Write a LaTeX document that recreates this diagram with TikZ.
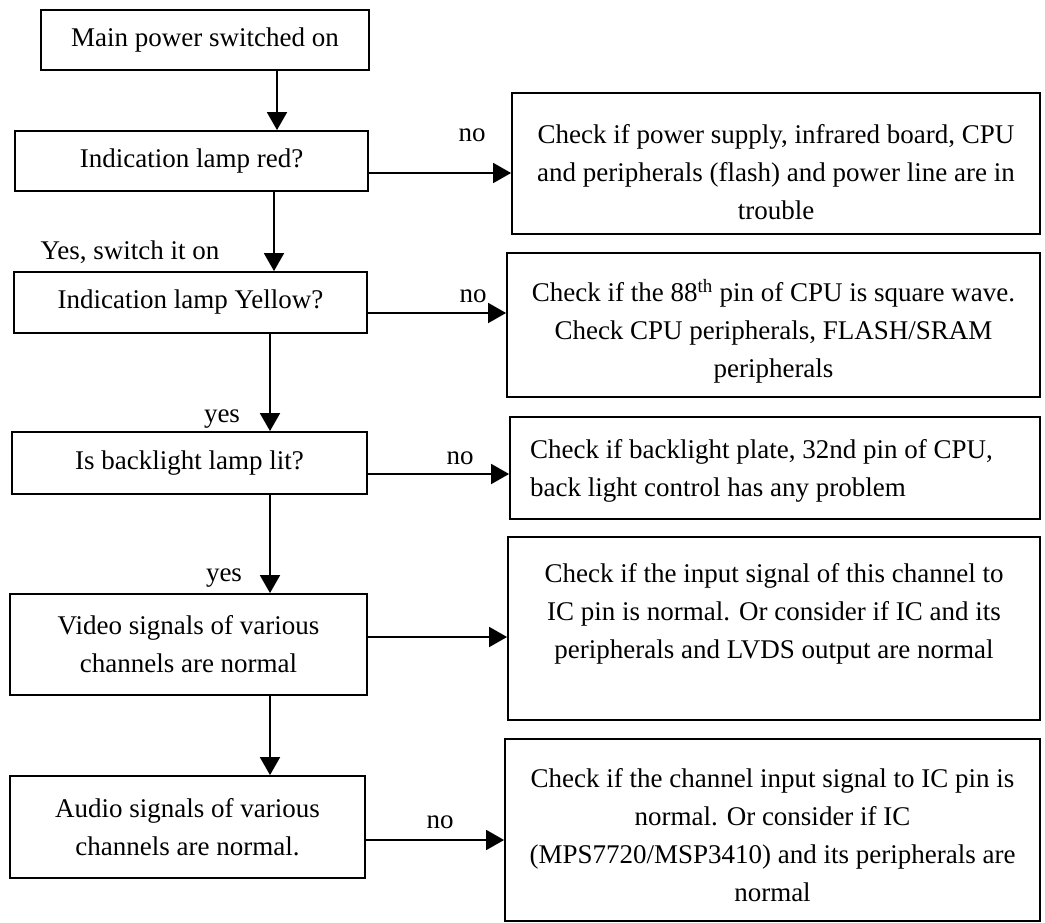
\documentclass[tikz,border=0pt]{standalone}
\usepackage{fontspec}
\setmainfont{Liberation Serif}
\usetikzlibrary{arrows.meta}
\begin{document}
\begin{tikzpicture}[x=1pt,y=-1pt,
  every node/.style={font=\fontsize{27}{38}\selectfont},
  box/.style={draw=black, line width=1.8pt, rectangle, inner sep=0pt, align=center},
  txt/.style={inner sep=0pt, align=center},
  lbl/.style={inner sep=0pt},
  arr/.style={line width=1.8pt, -{Triangle[length=18pt,width=20pt]}}]
\useasboundingbox (0,0) rectangle (1045,923);
\fill[white] (0,0) rectangle (1045,923);
% left column
\node[box, minimum width=328pt, minimum height=60pt] (b1) at (205,40) {Main power switched on};
\node[box, minimum width=353pt, minimum height=60pt] (b2) at (191.5,161) {Indication lamp red?};
\node[box, minimum width=353pt, minimum height=61pt] (b3) at (190.5,302.5) {Indication lamp Yellow?};
\node[box, minimum width=355pt, minimum height=62pt] (b4) at (189.5,463) {Is backlight lamp lit?};
\node[box, minimum width=357pt, minimum height=101pt] (b5) at (188.5,644.5) {Video signals of various\\channels are normal};
\node[box, minimum width=355pt, minimum height=102pt] (b6) at (187.5,827) {Audio signals of various\\channels are normal.};
% right column
\node[box, minimum width=528pt, minimum height=141pt] (r1) at (776,163.5) {};
\node[txt] (r1t) at (776,172) {Check if power supply, infrared board, CPU\\and peripherals (flash) and power line are in\\trouble};
\node[box, minimum width=533pt, minimum height=144pt] (r2) at (773.5,325) {};
\node[txt] (r2t) at (773.5,331) {Check if the 88\textsuperscript{th} pin of CPU is square wave.\\Check CPU peripherals, FLASH/SRAM\\peripherals};
\node[box, minimum width=530pt, minimum height=102pt] (r3) at (775,468) {};
\node[txt, align=left, anchor=west] (r3t) at (530,471) {Check if backlight plate, 32nd pin of CPU,\\back light control has any problem};
\node[box, minimum width=532pt, minimum height=183pt] (r4) at (774,628.5) {};
\node[txt] (r4t) at (774,614) {Check if the input signal of this channel to\\IC pin is normal. Or consider if IC and its\\peripherals and LVDS output are normal};
\node[box, minimum width=535pt, minimum height=182pt] (r5) at (772.5,830) {};
\node[txt] (r5t) at (772.5,835) {Check if the channel input signal to IC pin is\\normal. Or consider if IC\\(MPS7720/MSP3410) and its peripherals are\\normal};
% vertical arrows
\draw[arr] (b1.south -| 277,0) -- (b2.north -| 277,0);
\draw[arr] (b2.south -| 274,0) -- (b3.north -| 274,0);
\draw[arr] (b3.south -| 270,0) -- (b4.north -| 270,0);
\draw[arr] (b4.south -| 270,0) -- (b5.north -| 270,0);
\draw[arr] (b5.south -| 270,0) -- (b6.north -| 270,0);
% horizontal arrows
\draw[arr] (b2.east |- 0,173) -- (r1.west |- 0,173);
\draw[arr] (b3.east |- 0,313) -- (r2.west |- 0,313);
\draw[arr] (b4.east |- 0,474) -- (r3.west |- 0,474);
\draw[arr] (b5.east |- 0,637) -- (r4.west |- 0,637);
\draw[arr] (b6.east |- 0,840) -- (r5.west |- 0,840);
% labels
\node[lbl] (l1) at (472,135) {no};
\node[lbl] (l2) at (473,296) {no};
\node[lbl] (l3) at (460,458) {no};
\node[lbl] (l4) at (440,822) {no};
\node[lbl] (l5) at (130,252) {Yes, switch it on};
\node[lbl] (l6) at (222,419) {yes};
\node[lbl] (l7) at (224,578) {yes};
\end{tikzpicture}
\end{document}
